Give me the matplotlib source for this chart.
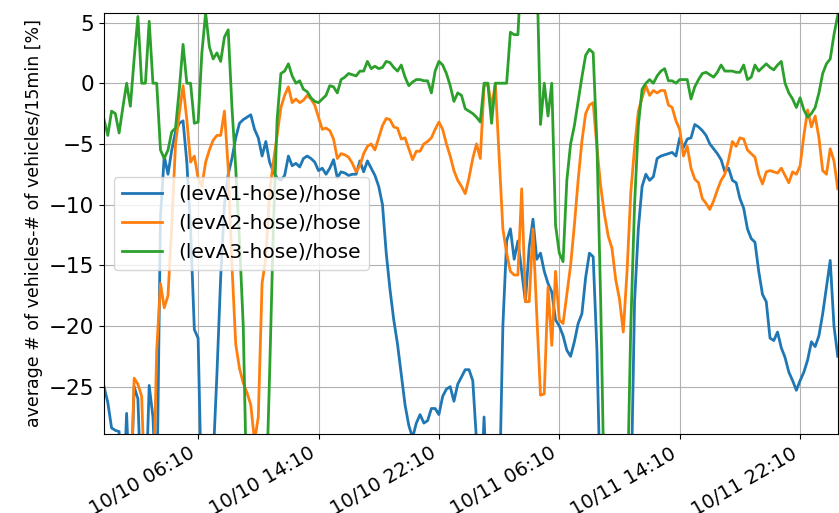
import numpy as np
import pandas as pd
import matplotlib
matplotlib.use('Agg')
import matplotlib.pyplot as plt
import matplotlib.dates as mdates

# 15 minute steps, 10/09 23:55 -> 10/12 00:40
times = pd.date_range('2019-10-09 23:55', periods=196, freq='15min')

levA1 = [-25.0, -26.3, -28.4, -28.6, -28.7, -35, -27.2, -35, -25.0, -26.0,
         -35, -35, -24.9, -27.5, -35, -11.0, -6.0, -7.5, -5.5, -4.0,
         -3.3, -3.1, -6.5, -12.0, -20.3, -21.0, -35, -35, -35, -31,
         -24.0, -16.0, -10.0, -7.5, -6.2, -4.5, -3.3, -3.0, -2.8, -2.6,
         -3.8, -4.5, -6.0, -4.8, -6.5, -7.3, -7.8, -8.0, -7.6, -6.0,
         -6.8, -6.6, -6.9, -6.2, -6.0, -6.2, -6.5, -7.2, -7.0, -7.5,
         -7.0, -6.3, -7.8, -7.3, -7.4, -7.6, -7.5, -7.5, -6.4, -7.3,
         -6.4, -7.0, -7.6, -8.5, -10.0, -14.0, -17.0, -19.5, -21.5, -24.0,
         -26.5, -28.2, -29.2, -28.0, -27.3, -28.0, -27.8, -26.8, -26.8, -27.3,
         -25.8, -25.2, -25.0, -26.2, -24.8, -24.2, -23.6, -23.6, -24.5, -29.5,
         -35, -27.5, -35, -35, -35, -35, -20.0, -13.0, -12.0, -14.5,
         -13.0, -15.5, -18.0, -13.5, -11.2, -14.5, -14.0, -15.5, -16.5, -17.2,
         -19.5, -20.0, -20.8, -22.0, -22.5, -21.3, -19.8, -19.0, -16.0, -14.0,
         -14.3, -22.0, -35, -35, -35, -35, -35, -35, -35, -35,
         -35, -18.0, -12.0, -8.5, -7.5, -8.0, -7.7, -6.2, -6.0, -5.9,
         -5.8, -5.7, -6.0, -4.5, -5.3, -4.6, -4.5, -3.4, -3.6, -3.9,
         -4.3, -5.0, -5.4, -5.8, -6.3, -7.3, -7.0, -8.0, -8.2, -9.5,
         -10.3, -12.0, -12.8, -13.1, -15.5, -17.4, -18.0, -21.0, -21.2, -20.5,
         -21.8, -22.6, -23.8, -24.5, -25.3, -24.5, -23.8, -22.8, -21.3, -21.7,
         -20.8, -19.0, -16.8, -14.6, -20.0, -22.5]

levA2 = [-35, -35, -35, -35, -35, -35, -35, -35, -24.3, -24.8,
         -25.8, -35, -35, -35, -22.0, -16.5, -18.5, -17.5, -11.7, -5.0,
         -2.5, -0.2, -3.0, -6.5, -6.0, -7.8, -8.5, -6.5, -5.5, -4.7,
         -4.3, -4.3, -2.3, -7.0, -15.0, -21.5, -23.5, -24.7, -25.5, -26.5,
         -29.5, -27.5, -16.5, -14.4, -9.0, -6.5, -4.3, -2.0, -1.0, -0.3,
         -1.6, -1.3, -1.6, -1.4, -1.0, -1.3, -1.8, -2.8, -3.8, -3.7,
         -3.9, -4.6, -6.2, -5.8, -5.9, -6.1, -6.6, -7.3, -6.8, -5.8,
         -5.2, -5.0, -5.5, -4.5, -3.5, -2.9, -3.0, -3.6, -3.7, -4.6,
         -4.5, -5.4, -6.3, -5.6, -5.6, -5.0, -4.8, -4.5, -3.8, -3.2,
         -3.8, -5.0, -6.0, -7.2, -8.0, -8.5, -9.1, -7.8, -6.2, -5.0,
         -6.2, -0.3, 0.0, -2.0, 0.0, -6.0, -12.0, -14.0, -15.5, -15.8,
         -15.8, -8.7, -18.0, -18.0, -12.0, -19.0, -25.7, -25.6, -16.8, -21.6,
         -15.5, -19.5, -19.8, -17.4, -15.0, -11.7, -8.0, -4.8, -2.5, -1.8,
         -1.6, -5.3, -8.5, -10.8, -12.6, -13.6, -16.2, -17.8, -20.5, -15.5,
         -9.0, -5.3, -2.3, -1.2, -0.2, -1.0, -0.6, -0.8, -0.6, -0.6,
         -1.8, -2.0, -3.1, -3.8, -6.0, -5.2, -7.0, -7.9, -8.2, -9.5,
         -9.9, -10.4, -9.7, -8.8, -8.0, -7.5, -6.3, -4.8, -5.2, -4.5,
         -4.6, -5.5, -5.8, -6.1, -7.5, -8.3, -7.3, -7.2, -7.3, -7.4,
         -7.0, -7.6, -8.2, -7.3, -7.5, -6.8, -4.3, -2.2, -3.6, -2.7,
         -4.5, -7.2, -7.5, -5.4, -6.4, -8.7]

levA3 = [-3.0, -4.3, -2.3, -2.5, -4.1, -2.0, 0.0, -1.9, 2.0, 5.5,
         0.0, 0.0, 5.1, 0.0, 0.0, -5.5, -6.2, -5.5, -4.0, -3.7,
         -0.5, 3.2, 0.0, 0.0, -3.3, -3.2, 2.5, 5.8, 3.0, 2.0,
         2.5, 1.8, 3.8, 4.4, -2.0, -7.0, -13.0, -20.0, -35, -35,
         -35, -35, -35, -35, -24.0, -12.0, -3.0, 0.8, 1.0, 1.6,
         0.6, 0.0, 0.2, -0.5, -0.7, -1.2, -1.5, -1.6, -1.3, -1.0,
         -0.2, -0.3, -0.8, 0.3, 0.5, 0.8, 0.7, 0.6, 1.0, 1.0,
         1.8, 1.2, 1.4, 1.2, 1.3, 1.8, 1.7, 1.3, 1.0, 1.5,
         0.5, -0.2, 0.1, 0.3, 0.3, 0.2, 0.2, -0.8, 1.0, 1.8,
         1.5, 0.8, -0.2, -1.5, -0.8, -1.0, -2.1, -2.3, -2.5, -2.8,
         -3.2, 0.0, 0.0, -3.3, 0.0, 0.0, 0.0, 0.0, 4.2, 4.0,
         4.0, 10, 10, 10, 10, 10, -3.4, 0.0, -2.7, 0.0,
         -11.7, -14.0, -14.7, -8.0, -5.0, -3.5, -1.5, 0.5, 2.3, 2.8,
         2.5, -5.0, -18.0, -35, -35, -35, -35, -35, -35, -35,
         -20.0, -10.0, -3.5, -0.5, 0.0, 0.3, 0.0, 0.6, 1.0, 1.2,
         0.2, 0.2, 0.0, 0.3, 0.3, 0.3, -1.3, -0.3, 0.3, 0.8,
         0.9, 0.7, 0.5, 0.9, 1.5, 1.0, 1.0, 1.0, 0.9, 0.9,
         1.5, 0.3, 0.5, 1.5, 1.0, 1.3, 1.6, 1.3, 1.1, 1.5,
         1.8, 0.0, -0.8, -1.3, -2.0, -1.2, -2.2, -2.8, -2.5, -2.0,
         -0.8, 0.8, 1.6, 2.0, 4.0, 5.6]

tick_times = pd.to_datetime(['2019-10-10 06:10', '2019-10-10 14:10', '2019-10-10 22:10',
                             '2019-10-11 06:10', '2019-10-11 14:10', '2019-10-11 22:10'])

data = pd.DataFrame({'(levA1-hose)/hose': levA1,
                     '(levA2-hose)/hose': levA2,
                     '(levA3-hose)/hose': levA3}, index=times)

plt.rcParams['font.size'] = 14
fig, ax = plt.subplots(figsize=(8.39, 5.13), dpi=100)
fig.subplots_adjust(left=0.124, right=0.9985, top=0.975, bottom=0.154)

for col in data.columns:
    ax.plot(data.index, data[col], label=col, linewidth=2)

ax.set_xlim(times[0], times[-1])
ax.set_ylim(-28.9, 5.8)
ax.set_yticks([5, 0, -5, -10, -15, -20, -25])
ax.tick_params(axis='y', labelsize=15.5)
ax.set_xticks(tick_times)
ax.xaxis.set_major_formatter(mdates.DateFormatter('%m/%d %H:%M'))
for lab in ax.get_xticklabels():
    lab.set_rotation(30)
    lab.set_ha('right')
ax.set_ylabel('average # of vehicles-# of vehicles/15min [%]', fontsize=12.5)
ax.grid(True)
ax.legend(loc='center left', fontsize=14.5)

fig.savefig('out.png', dpi=100)
